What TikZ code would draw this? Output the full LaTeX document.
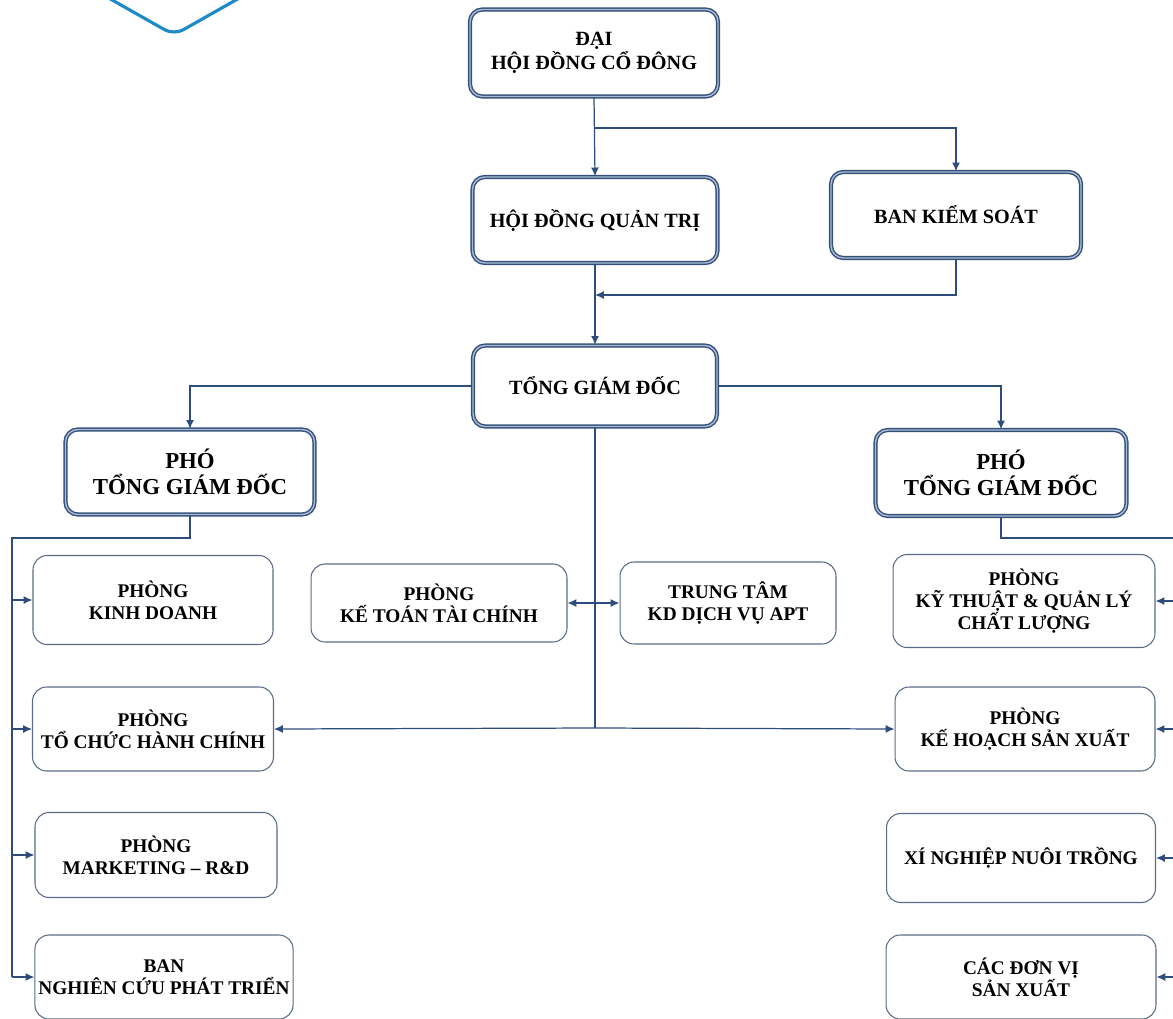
\documentclass[tikz,border=0pt]{standalone}
\usepackage{fontspec}
\setmainfont{Liberation Serif}
\usetikzlibrary{arrows.meta}
\usetikzlibrary{positioning}

\definecolor{boxblue}{HTML}{34507A}
\definecolor{boxlight}{HTML}{A9BCD6}
\definecolor{deptline}{HTML}{5B6B86}
\definecolor{linkblue}{HTML}{2E4C7C}
\definecolor{logoblue}{HTML}{1E8AC6}

\begin{document}
\begin{tikzpicture}[x=0.02cm,y=-0.02cm,>={Latex[length=5pt,width=4.5pt]},
  mainbox/.style={draw=boxblue,line width=0.8pt,double=boxlight,double distance=0.8pt,
    rounded corners=7pt,align=center,inner sep=2pt,
    font=\bfseries\fontsize{11.5}{13.6}\selectfont},
  vicebox/.style={mainbox,font=\bfseries\fontsize{13}{14.8}\selectfont},
  deptbox/.style={draw=deptline,line width=0.6pt,rounded corners=8pt,align=center,
    inner sep=2pt,font=\bfseries\fontsize{11}{12.5}\selectfont},
  link/.style={draw=linkblue,line width=0.7pt}]
  \useasboundingbox (0,0) rectangle (1173,1018);

  % logo corner
  \draw[logoblue,line width=1.8pt,rounded corners=6pt] (98,-8) -- (174,35) -- (250,-8);

  % top boxes
  \node[mainbox,minimum width=4.96cm,minimum height=1.74cm] (dhcd)
    at (594,53) {ĐẠI\\HỘI ĐỒNG CỔ ĐÔNG};
  \node[mainbox,minimum width=4.9cm,minimum height=1.72cm] (hdqt)
    at (595,220) {HỘI ĐỒNG QUẢN TRỊ};
  \node[mainbox,minimum width=5cm,minimum height=1.72cm] (bks)
    at (956,215) {BAN KIỂM SOÁT};
  \node[mainbox,minimum width=4.88cm,minimum height=1.62cm] (tgd)
    at (595,386) {TỔNG GIÁM ĐỐC};
  \node[vicebox,minimum width=4.98cm,minimum height=1.7cm] (ptgdl)
    at (190,472) {PHÓ\\TỔNG GIÁM ĐỐC};
  \node[vicebox,minimum width=5.02cm,minimum height=1.72cm] (ptgdr)
    at (1001,473) {PHÓ\\TỔNG GIÁM ĐỐC};

  % departments
  \node[deptbox,minimum width=4.8cm,minimum height=1.78cm] (pkd)
    at (153,600) {PHÒNG\\KINH DOANH};
  \node[deptbox,minimum width=5.12cm,minimum height=1.56cm] (kttc)
    at (439,603) {PHÒNG\\KẾ TOÁN TÀI CHÍNH};
  \node[deptbox,minimum width=4.32cm,minimum height=1.64cm] (ttam)
    at (728,603) {TRUNG TÂM\\KD DỊCH VỤ APT};
  \node[deptbox,minimum width=5.24cm,minimum height=1.86cm] (pkt)
    at (1024,601) {PHÒNG\\KỸ THUẬT \& QUẢN LÝ\\CHẤT LƯỢNG};
  \node[deptbox,minimum width=4.82cm,minimum height=1.68cm] (tchc)
    at (153,729) {PHÒNG\\TỔ CHỨC HÀNH CHÍNH};
  \node[deptbox,minimum width=5.2cm,minimum height=1.68cm] (pkhsx)
    at (1025,729) {PHÒNG\\KẾ HOẠCH SẢN XUẤT};
  \node[deptbox,minimum width=4.84cm,minimum height=1.7cm] (mkt)
    at (156,855) {PHÒNG\\MARKETING – R\&D};
  \node[deptbox,minimum width=5.38cm,minimum height=1.78cm] (xnnt)
    at (1021,858) {XÍ NGHIỆP NUÔI TRỒNG};
  \node[deptbox,minimum width=5.16cm,minimum height=1.68cm] (ncpt)
    at (164,977) {BAN\\NGHIÊN CỨU PHÁT TRIỂN};
  \node[deptbox,minimum width=5.4cm,minimum height=1.68cm] (cdv)
    at (1021,977) {CÁC ĐƠN VỊ\\SẢN XUẤT};

  % junctions
  \coordinate (j1) at (594,128);
  \coordinate (j2) at (595,295);
  \coordinate (j3) at (595,728);
  \coordinate (lbus) at (12,538);
  \coordinate (rbus) at (1185,538);

  % arrows
  \draw[link,->] (dhcd.south) -- (hdqt.north);
  \draw[link,->] (j1) -| (bks.north);
  \draw[link,->] (hdqt.south) -- (tgd.north);
  \draw[link,->] (bks.south) |- (j2);
  \draw[link,->] (tgd.west) -| (ptgdl.north);
  \draw[link,->] (tgd.east) -| (ptgdr.north);
  \draw[link] (tgd.south) -- (j3);
  \draw[link,->] (j3) -- (tchc.east);
  \draw[link,->] (j3) -- (pkhsx.west);
  \draw[link,<->] (kttc.east) -- (ttam.west);

  \draw[link] (ptgdl.south) |- (lbus) -- (lbus |- ncpt.west);
  \foreach \b in {pkd,tchc,mkt,ncpt}
    \draw[link,->] (lbus |- \b.west) -- (\b.west);
  \draw[link] (ptgdr.south) |- (rbus) -- (rbus |- cdv.east);
  \foreach \b in {pkt,pkhsx,xnnt,cdv}
    \draw[link,->] (rbus |- \b.east) -- (\b.east);
\end{tikzpicture}
\end{document}
